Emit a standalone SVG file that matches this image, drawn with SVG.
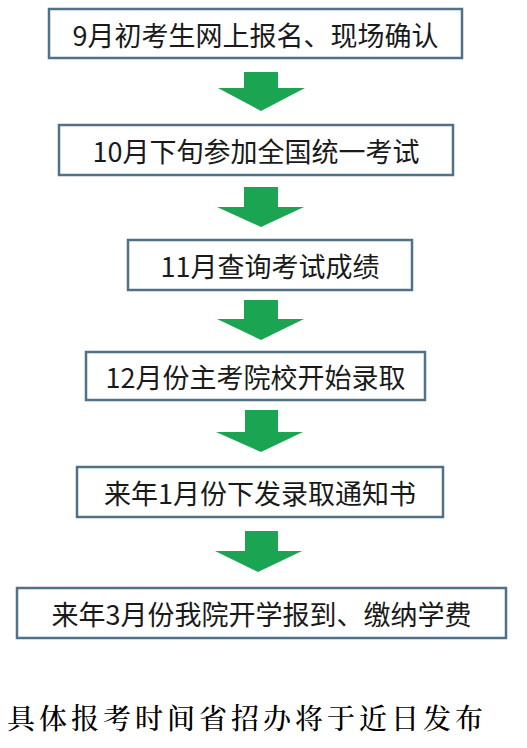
<svg xmlns="http://www.w3.org/2000/svg" width="527" height="748" viewBox="0 0 527 748">
<style>
.box{fill:#ffffff;stroke:#4f7189;stroke-width:2.5}
.lbl{font-family:"Noto Sans CJK SC","Liberation Sans",sans-serif;font-size:27px;fill:#1a1a1a;text-anchor:middle;dominant-baseline:central}
.arr{fill:#1ba552}
.note{font-family:"Noto Serif CJK SC","Noto Sans CJK SC",serif;font-size:28px;font-weight:500;fill:#000;letter-spacing:4px}
</style>
<rect width="527" height="748" fill="#ffffff"/>
<g id="connectors">
<polygon class="arr" points="244,72 278,72 278,88 305,88 261,111 218,88 244,88"/>
<polygon class="arr" points="244,187 278,187 278,207 304,207 261,227 217,207 244,207"/>
<polygon class="arr" points="244,300 278,300 278,319 304,319 261,340 217,319 244,319"/>
<polygon class="arr" points="245,410 278,410 278,432 303,432 261,452 216,432 245,432"/>
<polygon class="arr" points="245,531 278,531 278,551 302,551 258,572 215,551 245,551"/>
</g>
<g id="n1"><rect class="box" x="49" y="9" width="413" height="49"/><text class="lbl" x="255.5" y="34">9月初考生网上报名、现场确认</text></g>
<g id="n2"><rect class="box" x="59" y="125" width="394" height="50"/><text class="lbl" x="256" y="150">10月下旬参加全国统一考试</text></g>
<g id="n3"><rect class="box" x="128" y="240" width="284" height="50"/><text class="lbl" x="270" y="265">11月查询考试成绩</text></g>
<g id="n4"><rect class="box" x="86" y="352" width="339" height="48"/><text class="lbl" x="255.5" y="376">12月份主考院校开始录取</text></g>
<g id="n5"><rect class="box" x="77" y="467" width="366" height="50"/><text class="lbl" x="260" y="492">来年1月份下发录取通知书</text></g>
<g id="n6"><rect class="box" x="17" y="588" width="489" height="50"/><text class="lbl" x="261.5" y="613">来年3月份我院开学报到、缴纳学费</text></g>
<g id="note"><text class="note" x="7" y="729">具体报考时间省招办将于近日发布</text></g>
</svg>
